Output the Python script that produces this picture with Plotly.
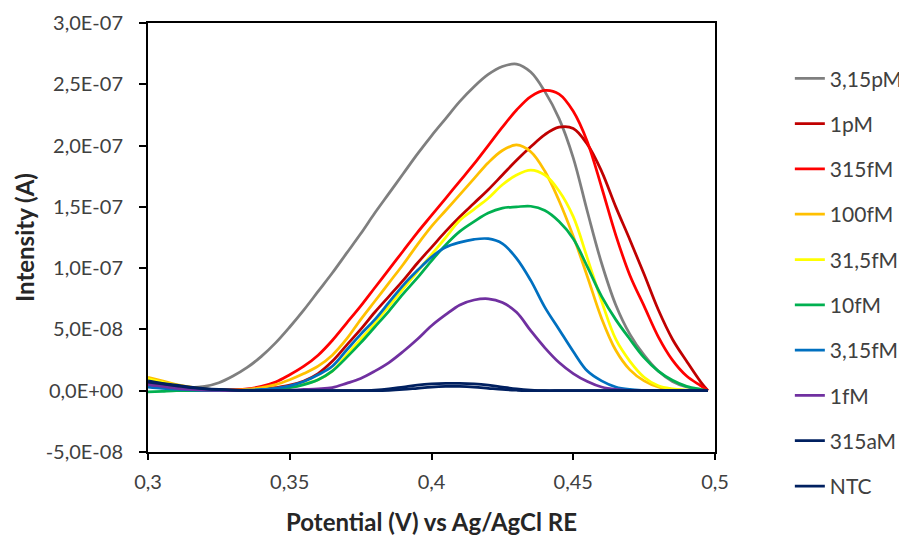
import plotly.graph_objects as go

# Potential (V)
potential = [0.300, 0.305, 0.310, 0.315, 0.320, 0.325, 0.330, 0.335, 0.340, 0.345,
             0.350, 0.355, 0.360, 0.365, 0.370, 0.375, 0.380, 0.385, 0.390, 0.395,
             0.400, 0.405, 0.410, 0.415, 0.420, 0.425, 0.430, 0.435, 0.440, 0.445,
             0.450, 0.455, 0.460, 0.465, 0.470, 0.475, 0.480, 0.485, 0.490, 0.495, 0.4975]

# Intensity values in units of 1E-8 A
i_3_15pM = [0.6, 0.45, 0.3, 0.25, 0.35, 0.65, 1.2, 1.9, 2.8, 3.9,
            5.2, 6.6, 8.1, 9.6, 11.2, 12.8, 14.5, 16.1, 17.7, 19.3,
            20.8, 22.2, 23.6, 24.8, 25.8, 26.45, 26.65, 26.0, 24.4, 22.2,
            19.0, 14.6, 10.4, 7.0, 4.6, 2.9, 1.6, 0.75, 0.3, 0.1, 0.0]
i_1pM = [0.5, 0.35, 0.2, 0.1, 0.05, 0.03, 0.03, 0.05, 0.1, 0.25,
         0.45, 0.8, 1.4, 2.4, 3.7, 5.0, 6.4, 7.7, 9.0, 10.4,
         11.7, 13.0, 14.2, 15.3, 16.4, 17.6, 18.8, 19.9, 20.9, 21.5,
         21.4, 20.1, 17.9, 15.0, 12.3, 9.5, 6.6, 4.2, 2.4, 0.7, 0.0]
i_315fM = [0.5, 0.35, 0.2, 0.1, 0.05, 0.05, 0.08, 0.15, 0.35, 0.7,
           1.3, 2.0, 2.9, 4.1, 5.5, 6.9, 8.4, 9.9, 11.4, 12.9,
           14.3, 15.7, 17.1, 18.5, 20.0, 21.5, 22.9, 24.0, 24.5, 24.2,
           22.8, 20.3, 16.6, 12.7, 9.4, 6.9, 4.4, 2.5, 1.2, 0.4, 0.0]
i_100fM = [1.1, 0.8, 0.5, 0.3, 0.15, 0.08, 0.05, 0.1, 0.25, 0.5,
           0.9, 1.4, 2.0, 2.9, 4.2, 5.8, 7.3, 8.8, 10.3, 11.9,
           13.4, 14.7, 16.0, 17.3, 18.6, 19.6, 20.05, 19.5, 17.9, 15.5,
           12.6, 9.3, 5.9, 3.3, 1.7, 0.8, 0.3, 0.1, 0.03, 0.0, 0.0]
i_31_5fM = [1.0, 0.7, 0.45, 0.25, 0.12, 0.05, 0.02, 0.03, 0.07, 0.15,
            0.3, 0.55, 0.9, 1.6, 2.9, 4.2, 5.5, 6.9, 8.3, 9.7,
            11.1, 12.5, 13.9, 14.8, 15.7, 16.8, 17.6, 18.0, 17.6, 16.3,
            14.2, 10.8, 7.3, 4.2, 2.4, 1.1, 0.4, 0.15, 0.05, 0.0, 0.0]
i_10fM = [-0.1, -0.05, 0.0, 0.0, 0.0, 0.0, 0.0, 0.02, 0.05, 0.12,
          0.25, 0.5, 0.9, 1.6, 2.7, 3.9, 5.2, 6.5, 7.9, 9.2,
          10.6, 11.9, 13.0, 13.8, 14.5, 14.9, 15.0, 15.05, 14.7, 13.8,
          12.4, 10.1, 7.7, 5.8, 4.2, 2.7, 1.6, 0.85, 0.35, 0.1, 0.0]
i_3_15fM = [0.3, 0.2, 0.12, 0.06, 0.03, 0.02, 0.02, 0.05, 0.1, 0.2,
            0.4, 0.75, 1.3, 2.0, 3.3, 4.6, 5.8, 7.2, 8.6, 9.8,
            10.9, 11.7, 12.1, 12.35, 12.4, 12.0, 10.8, 9.0, 6.8, 5.0,
            3.2, 1.6, 0.8, 0.3, 0.1, 0.03, 0.0, 0.0, 0.0, 0.0, 0.0]
i_1fM = [0.5, 0.35, 0.2, 0.1, 0.05, 0.02, 0.0, 0.0, 0.0, 0.02,
         0.05, 0.1, 0.15, 0.25, 0.6, 1.0, 1.6, 2.3, 3.2, 4.2,
         5.3, 6.2, 7.0, 7.4, 7.5, 7.2, 6.4, 4.9, 3.5, 2.3,
         1.4, 0.75, 0.3, 0.1, 0.03, 0.0, 0.0, 0.0, 0.0, 0.0, 0.0]
i_315aM = [0.7, 0.55, 0.4, 0.25, 0.15, 0.08, 0.04, 0.02, 0.0, 0.0,
           0.0, 0.0, 0.0, 0.0, 0.0, 0.0, 0.05, 0.15, 0.3, 0.45,
           0.55, 0.6, 0.6, 0.55, 0.45, 0.3, 0.15, 0.05, 0.0, 0.0,
           0.0, 0.0, 0.0, 0.0, 0.0, 0.0, 0.0, 0.0, 0.0, 0.0, 0.0]
i_NTC = [0.8, 0.6, 0.45, 0.3, 0.18, 0.1, 0.05, 0.02, 0.0, 0.0,
         0.0, 0.0, 0.0, 0.0, 0.0, 0.0, 0.0, 0.03, 0.1, 0.2,
         0.3, 0.35, 0.35, 0.3, 0.2, 0.1, 0.04, 0.0, 0.0, 0.0,
         0.0, 0.0, 0.0, 0.0, 0.0, 0.0, 0.0, 0.0, 0.0, 0.0, 0.0]

series_names = ["3,15pM", "1pM", "315fM", "100fM", "31,5fM", "10fM", "3,15fM", "1fM", "315aM", "NTC"]
series_values = [i_3_15pM, i_1pM, i_315fM, i_100fM, i_31_5fM, i_10fM, i_3_15fM, i_1fM, i_315aM, i_NTC]
series_colors = ["#7F7F7F", "#C00000", "#FF0000", "#FFC000", "#FFFF00", "#00B050", "#0070C0", "#7030A0", "#002060", "#002060"]

x_tickvals = [0.3, 0.35, 0.4, 0.45, 0.5]
x_ticktext = ["0,3", "0,35", "0,4", "0,45", "0,5"]
y_tickvals = [-5e-8, 0, 5e-8, 1e-7, 1.5e-7, 2e-7, 2.5e-7, 3e-7]
y_ticktext = ["-5,0E-08", "0,0E+00", "5,0E-08", "1,0E-07", "1,5E-07", "2,0E-07", "2,5E-07", "3,0E-07"]

FONT = "Lato, 'Open Sans', sans-serif"
TXT = "#404040"

fig = go.Figure()
for name, vals, col in zip(series_names, series_values, series_colors):
    fig.add_trace(go.Scatter(
        x=potential, y=[v * 1e-8 for v in vals], name=name, mode="lines",
        line=dict(color=col, width=2.75, shape="spline", smoothing=1.0),
        legendgroup=name,
    ))

# page has an 8px body margin, so the figure is sized to fit the 907x536 window
fig.update_layout(
    width=899, height=528,
    margin=dict(l=140, r=192, t=15, b=84, autoexpand=False),
    paper_bgcolor="white", plot_bgcolor="white",
    font=dict(family=FONT, size=20, color=TXT),
    showlegend=True,
    legend=dict(
        x=1.132, xanchor="left", y=0.918, yanchor="top",
        font=dict(family=FONT, size=21, color=TXT),
        tracegroupgap=15, traceorder="grouped",
        bgcolor="rgba(0,0,0,0)",
        maxheight=520,
    ),
    xaxis=dict(
        range=[0.3, 0.5], tickvals=x_tickvals, ticktext=x_ticktext,
        showgrid=False, zeroline=False, automargin=False,
        showline=True, linecolor="black", linewidth=2, mirror=True,
        ticks="outside", ticklen=6, tickwidth=2, tickcolor="black",
        ticklabelstandoff=5,
        tickfont=dict(family=FONT, size=20, color=TXT),
        title=dict(text="<b>Potential (V) vs Ag/AgCl RE</b>", standoff=28,
                   font=dict(family=FONT, size=24, color="#262626")),
    ),
    yaxis=dict(
        range=[-5e-8, 3e-7], tickvals=y_tickvals, ticktext=y_ticktext,
        showgrid=False, zeroline=False, automargin=False,
        showline=True, linecolor="black", linewidth=2, mirror=True,
        ticks="outside", ticklen=7, tickwidth=2, tickcolor="black",
        ticklabelstandoff=12,
        tickfont=dict(family=FONT, size=20, color=TXT),
        title=dict(text="<b>Intensity (A)</b>", standoff=4,
                   font=dict(family=FONT, size=24, color="#262626")),
    ),
    xaxis2=dict(
        range=[0.3, 0.5], overlaying="x", anchor="y", side="bottom",
        tickvals=x_tickvals, showticklabels=False, showgrid=False, zeroline=False,
        showline=False, ticks="inside", ticklen=6, tickwidth=2, tickcolor="black",
        automargin=False,
    ),
    yaxis2=dict(
        range=[-5e-8, 3e-7], overlaying="y", anchor="x", side="left",
        tickvals=y_tickvals, showticklabels=False, showgrid=False, zeroline=False,
        showline=False, ticks="inside", ticklen=7, tickwidth=2, tickcolor="black",
        automargin=False,
    ),
)

fig.write_html("out.html")
